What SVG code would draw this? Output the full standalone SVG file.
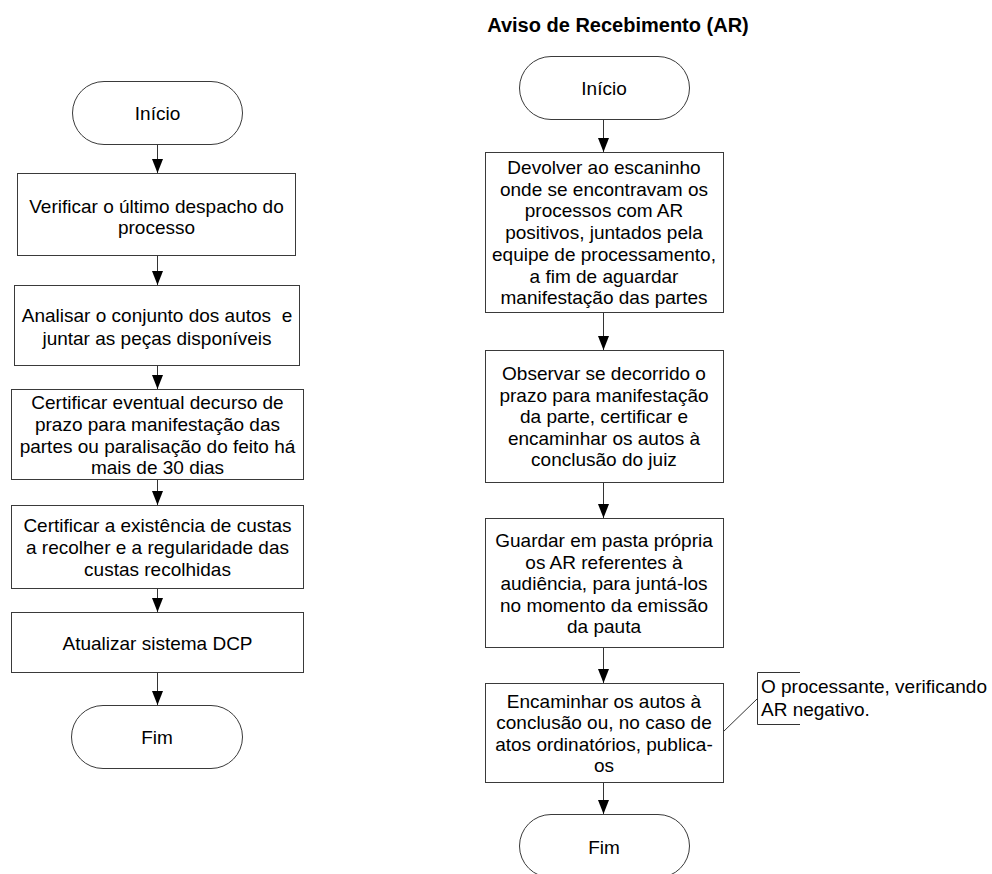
<svg xmlns="http://www.w3.org/2000/svg" width="992" height="874" viewBox="0 0 992 874">
<defs>
<marker id="ah" markerWidth="14" markerHeight="11" refX="14" refY="5.5" orient="auto" markerUnits="userSpaceOnUse" viewBox="0 0 14 11">
<path d="M0,0 L14,5.5 L0,11 Z" fill="#000"/>
</marker>
<style>
.shape{fill:#fff;stroke:#3a3a3a;stroke-width:1}
.t{font-family:"Liberation Sans",Arial,sans-serif;font-size:19px;fill:#000;text-anchor:middle}
.ta{font-family:"Liberation Sans",Arial,sans-serif;font-size:19px;fill:#000}
.title{font-family:"Liberation Sans",Arial,sans-serif;font-size:20px;font-weight:bold;fill:#000;text-anchor:middle}
.c{fill:none;stroke:#333;stroke-width:1}
.ca{fill:none;stroke:#333;stroke-width:1;marker-end:url(#ah)}
</style>
</defs>
<rect width="992" height="874" fill="#fff"/>

<text class="title" x="618" y="32">Aviso de Recebimento (AR)</text>

<g id="connectors">
<line class="ca" x1="157.5" y1="145" x2="157.5" y2="173"/>
<line class="ca" x1="157.5" y1="255" x2="157.5" y2="285"/>
<line class="ca" x1="157.5" y1="365" x2="157.5" y2="389"/>
<line class="ca" x1="157.5" y1="479" x2="157.5" y2="505"/>
<line class="ca" x1="157.5" y1="589" x2="157.5" y2="612"/>
<line class="ca" x1="157.5" y1="673" x2="157.5" y2="705"/>

<line class="ca" x1="603.5" y1="119" x2="603.5" y2="152"/>
<line class="ca" x1="603.5" y1="312" x2="603.5" y2="350"/>
<line class="ca" x1="603.5" y1="482" x2="603.5" y2="518"/>
<line class="ca" x1="603.5" y1="647" x2="603.5" y2="683"/>
<line class="ca" x1="603.5" y1="782" x2="603.5" y2="814"/>

<line class="c" x1="723" y1="732" x2="757" y2="699"/>
</g>

<g id="l-inicio">
<rect class="shape" x="72.5" y="81.5" width="170" height="63" rx="31.5" ry="31.5"/>
<text class="t" x="157.5" y="120">Início</text>
</g>
<g id="l-verificar">
<rect class="shape" x="17.5" y="173.5" width="278" height="82"/>
<text class="t" x="156.5" y="213">Verificar o último despacho do</text>
<text class="t" x="156.5" y="234">processo</text>
</g>
<g id="l-analisar">
<rect class="shape" x="14.5" y="285.5" width="285" height="80"/>
<text class="t" x="157" y="322" xml:space="preserve">Analisar o conjunto dos autos  e</text>
<text class="t" x="157" y="344.5">juntar as peças disponíveis</text>
</g>
<g id="l-certificar1">
<rect class="shape" x="11.5" y="389.5" width="292" height="90"/>
<text class="t" x="157.5" y="409">Certificar eventual decurso de</text>
<text class="t" x="157.5" y="430.5">prazo para manifestação das</text>
<text class="t" x="157.5" y="452.5">partes ou paralisação do feito há</text>
<text class="t" x="157.5" y="474">mais de 30 dias</text>
</g>
<g id="l-certificar2">
<rect class="shape" x="11.5" y="505.5" width="292" height="83"/>
<text class="t" x="157.5" y="532">Certificar a existência de custas</text>
<text class="t" x="157.5" y="554">a recolher e a regularidade das</text>
<text class="t" x="157.5" y="576">custas recolhidas</text>
</g>
<g id="l-atualizar">
<rect class="shape" x="11.5" y="612.5" width="292" height="60"/>
<text class="t" x="157.5" y="650">Atualizar sistema DCP</text>
</g>
<g id="l-fim">
<rect class="shape" x="71.5" y="705.5" width="171" height="63" rx="31.5" ry="31.5"/>
<text class="t" x="157" y="744">Fim</text>
</g>

<g id="r-inicio">
<rect class="shape" x="519.5" y="56.5" width="170" height="63" rx="31.5" ry="31.5"/>
<text class="t" x="604" y="95">Início</text>
</g>
<g id="r-devolver">
<rect class="shape" x="485.5" y="152.5" width="238" height="160"/>
<text class="t" x="604" y="174">Devolver ao escaninho</text>
<text class="t" x="604" y="195.7">onde se encontravam os</text>
<text class="t" x="604" y="217.4">processos com AR</text>
<text class="t" x="604" y="239.1">positivos, juntados pela</text>
<text class="t" x="604" y="260.8">equipe de processamento,</text>
<text class="t" x="604" y="282.5">a fim de aguardar</text>
<text class="t" x="604" y="304.2">manifestação das partes</text>
</g>
<g id="r-observar">
<rect class="shape" x="485.5" y="350.5" width="238" height="132"/>
<text class="t" x="604" y="380">Observar se decorrido o</text>
<text class="t" x="604" y="401.5">prazo para manifestação</text>
<text class="t" x="604" y="423">da parte, certificar e</text>
<text class="t" x="604" y="444.5">encaminhar os autos à</text>
<text class="t" x="604" y="466">conclusão do juiz</text>
</g>
<g id="r-guardar">
<rect class="shape" x="485.5" y="518.5" width="238" height="129"/>
<text class="t" x="604" y="547">Guardar em pasta própria</text>
<text class="t" x="604" y="568.5">os AR referentes à</text>
<text class="t" x="604" y="590">audiência, para juntá-los</text>
<text class="t" x="604" y="611.5">no momento da emissão</text>
<text class="t" x="604" y="633">da pauta</text>
</g>
<g id="r-encaminhar">
<rect class="shape" x="485.5" y="683.5" width="238" height="99"/>
<text class="t" x="604" y="707.5">Encaminhar os autos à</text>
<text class="t" x="604" y="729">conclusão ou, no caso de</text>
<text class="t" x="604" y="750.5">atos ordinatórios, publica-</text>
<text class="t" x="604" y="772">os</text>
</g>
<g id="r-fim">
<rect class="shape" x="519.5" y="814.5" width="170" height="63" rx="31.5" ry="31.5"/>
<text class="t" x="604" y="854">Fim</text>
</g>
<g id="r-nota">
<path class="c" d="M800,672.5 H757.5 V724.5 H800"/>
<text class="ta" x="761" y="693">O processante, verificando</text>
<text class="ta" x="761" y="716">AR negativo.</text>
</g>
</svg>
